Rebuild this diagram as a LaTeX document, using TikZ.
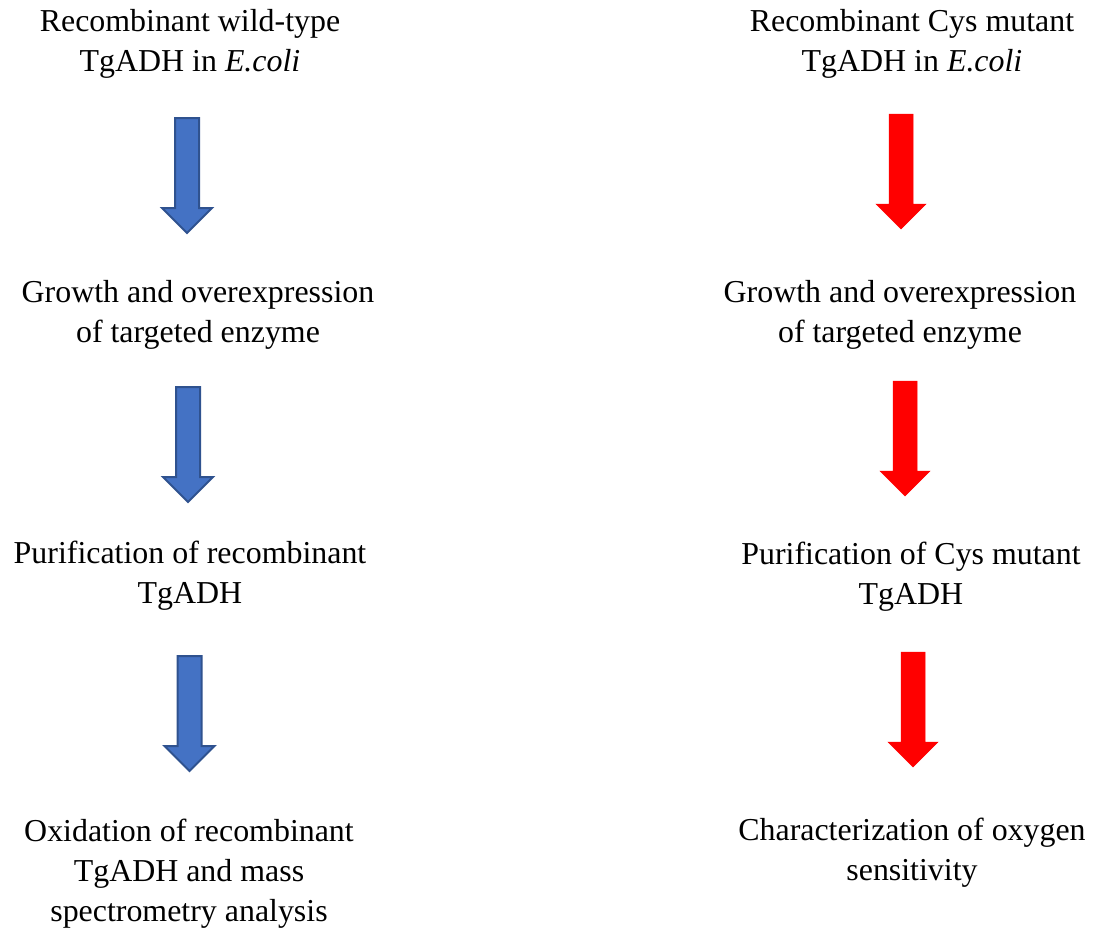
\documentclass[tikz,border=0pt]{standalone}
\usepackage{fontspec}
\setmainfont{Liberation Serif}
\definecolor{wtblue}{HTML}{4472C4}
\definecolor{wtborder}{HTML}{2F528F}
\tikzset{
  x=1pt, y=-1pt,
  lbl/.style={align=center, inner sep=0pt, anchor=base, font=\fontsize{31.9}{40}\selectfont},
  blockarrow/.pic={
    \path[pic actions] (-12,0) -- (12,0) -- (12,90) -- (25,90) -- (0,115) -- (-25,90) -- (-12,90) -- cycle;
  },
  bluearr/.style={fill=wtblue, draw=wtborder, line width=2pt, line join=miter},
  redarr/.style={fill=red, draw=red, line width=0.5pt},
}
\begin{document}
\begin{tikzpicture}
\useasboundingbox (0,0) rectangle (1095,934);
% left column (anchor = baseline of last line)
\node[lbl] (l1) at (190,72) {Recombinant wild-type\\TgADH in \textit{E.coli}};
\node[lbl] (l2) at (198,342) {Growth and overexpression\\of targeted enzyme};
\node[lbl] (l3) at (190,603) {Purification of recombinant\\TgADH};
\node[lbl] (l4) at (189,921) {Oxidation of recombinant\\TgADH and mass\\spectrometry analysis};
% right column
\node[lbl] (r1) at (912,72) {Recombinant Cys mutant\\TgADH in \textit{E.coli}};
\node[lbl] (r2) at (900,342) {Growth and overexpression\\of targeted enzyme};
\node[lbl] (r3) at (911,604) {Purification of Cys mutant\\TgADH};
\node[lbl] (r4) at (912,880) {Characterization of oxygen\\sensitivity};
% arrows
\pic[bluearr] (la1) at (187,118) {blockarrow};
\pic[bluearr] (la2) at (188,387) {blockarrow};
\pic[bluearr] (la3) at (189.5,656) {blockarrow};
\pic[redarr] (ra1) at (901,114) {blockarrow};
\pic[redarr] (ra2) at (905,381) {blockarrow};
\pic[redarr] (ra3) at (913,652) {blockarrow};
\end{tikzpicture}
\end{document}
